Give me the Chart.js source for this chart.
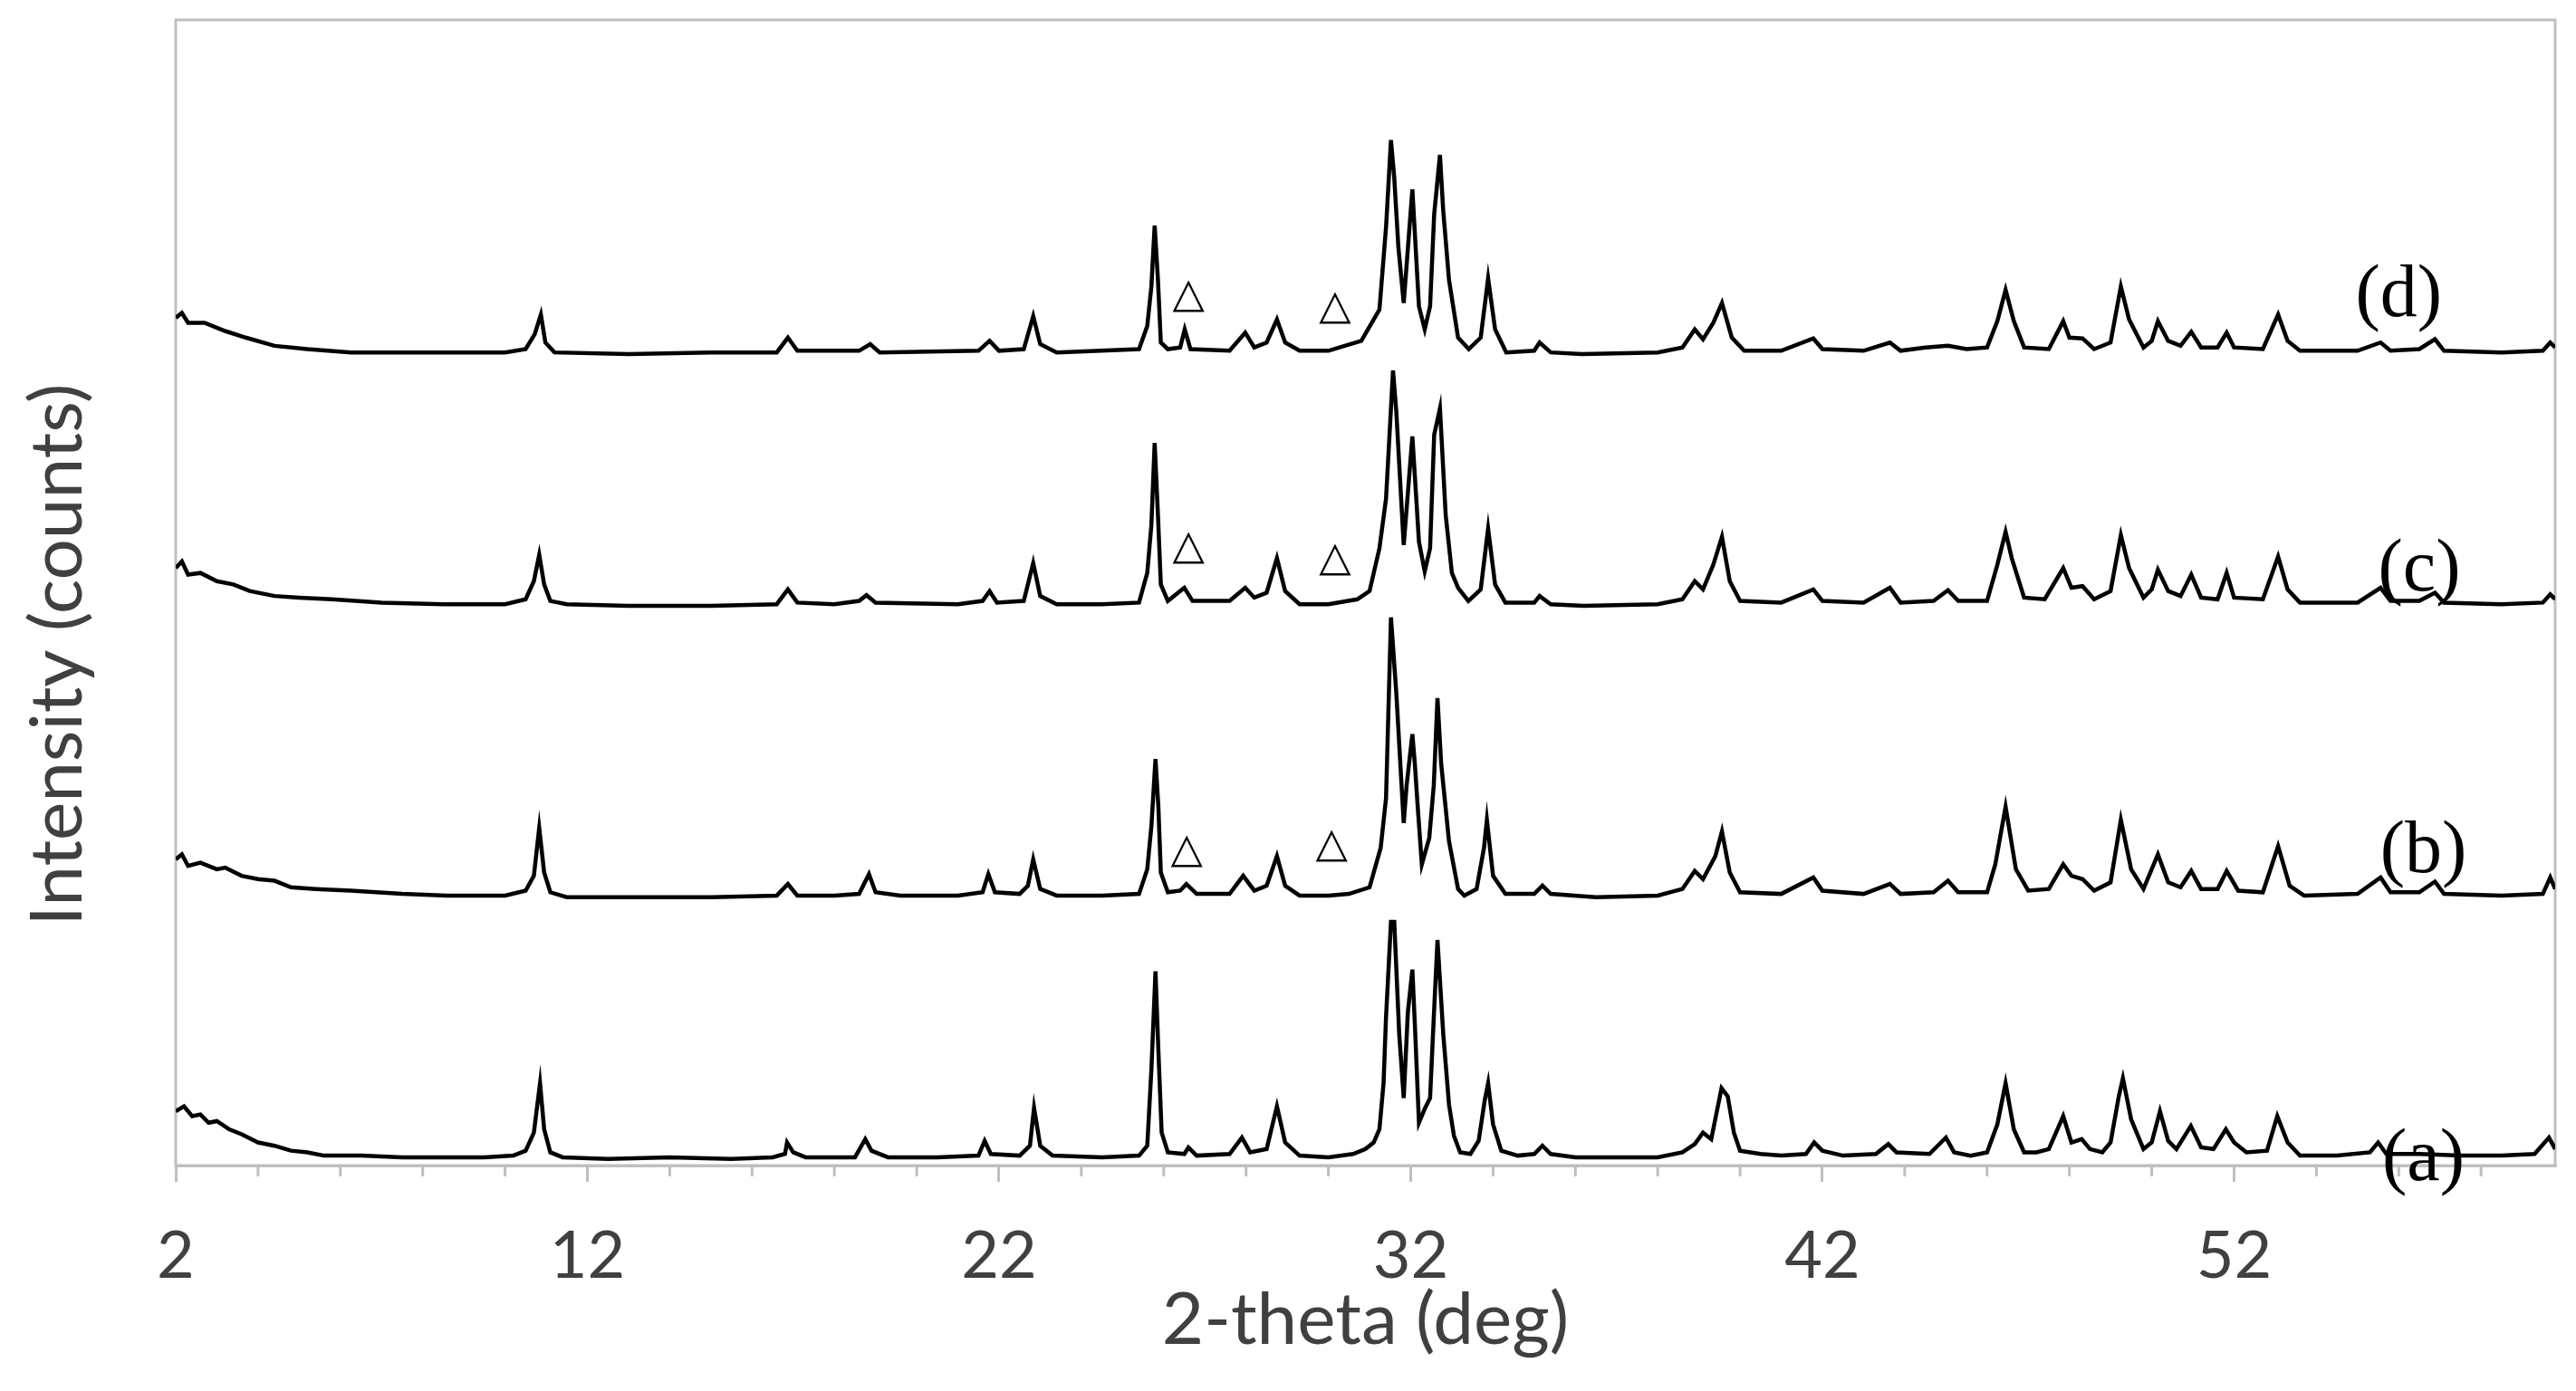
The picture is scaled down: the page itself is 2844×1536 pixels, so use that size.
<!DOCTYPE html>
<html>
<head>
<meta charset="utf-8">
<script src="https://cdn.jsdelivr.net/npm/chart.js@4/dist/chart.umd.min.js"></script>
<style>
  html, body { margin: 0; padding: 0; background: #ffffff; }
  canvas { display: block; }
</style>
</head>
<body>
<canvas id="xrd-chart" width="2844" height="1536"></canvas>
<script>
// 2-theta positions and counts (a) .. (d)
const thetaA = [2.0, 2.2, 2.4, 2.6, 2.8, 3.0, 3.3, 3.6, 4.0, 4.4, 4.8, 5.2, 5.6, 6.5, 7.5, 8.5, 9.5, 10.2, 10.5, 10.7, 10.85, 10.95, 11.1, 11.4, 12.5, 14, 15.5, 16.5, 16.8, 16.85, 17.0, 17.3, 18.5, 18.75, 18.9, 19.3, 20.5, 21.5, 21.65, 21.8, 22.5, 22.75, 22.85, 23.0, 23.3, 24.5, 25.4, 25.6, 25.7, 25.8, 25.87, 25.95, 26.1, 26.5, 26.6, 26.8, 27.6, 27.9, 28.1, 28.5, 28.75, 28.95, 29.3, 30.0, 30.6, 30.9, 31.1, 31.24, 31.34, 31.4, 31.52, 31.6, 31.72, 31.83, 31.93, 32.04, 32.1, 32.2, 32.35, 32.47, 32.56, 32.65, 32.79, 32.93, 33.05, 33.2, 33.45, 33.65, 33.8, 33.88, 34.0, 34.2, 34.6, 35.0, 35.2, 35.4, 36.0, 37.0, 38.0, 38.6, 38.9, 39.1, 39.3, 39.55, 39.7, 39.85, 40.0, 40.5, 41.0, 41.6, 41.8, 42.0, 42.5, 43.3, 43.6, 43.8, 44.6, 45.0, 45.2, 45.6, 46.0, 46.25, 46.45, 46.65, 46.9, 47.2, 47.5, 47.85, 48.05, 48.3, 48.5, 48.8, 49.0, 49.2, 49.3, 49.5, 49.8, 50.0, 50.2, 50.4, 50.6, 50.95, 51.2, 51.5, 51.8, 52.0, 52.3, 52.8, 53.05, 53.3, 53.6, 54.5, 55.3, 55.5, 55.7, 56.5, 57.5, 58.5, 59.3, 59.65, 59.8];
const countsA = [33, 36, 30, 31, 26, 27, 22, 19, 14, 12, 9, 8, 6, 6, 5, 5, 5, 6, 9, 20, 50, 22, 8, 5, 4, 5, 4, 5, 7, 14, 8, 5, 5, 16, 9, 5, 5, 6, 15, 7, 6, 12, 35, 12, 6, 5, 6, 12, 58, 118, 70, 20, 8, 7, 11, 6, 7, 17, 8, 10, 36, 14, 6, 5, 7, 10, 14, 22, 50, 90, 148, 148, 80, 41, 93, 119, 86, 26, 35, 41, 90, 137, 80, 37, 18, 8, 7, 15, 40, 50, 25, 9, 6, 7, 12, 7, 5, 5, 5, 8, 13, 20, 16, 47, 42, 20, 9, 7, 6, 7, 14, 9, 6, 7, 13, 8, 7, 17, 8, 6, 8, 25, 50, 22, 8, 8, 10, 30, 14, 16, 10, 8, 14, 42, 53, 28, 10, 14, 33, 15, 10, 24, 11, 10, 22, 14, 8, 9, 30, 14, 6, 6, 8, 14, 7, 7, 6, 6, 7, 17, 10];

const thetaB = [2.0, 2.15, 2.3, 2.6, 3.0, 3.2, 3.6, 4.0, 4.4, 4.8, 5.4, 6.26, 7.5, 8.6, 10.0, 10.5, 10.7, 10.83, 10.95, 11.1, 11.5, 13, 15, 16.6, 16.87, 17.1, 18.0, 18.6, 18.84, 19.0, 19.6, 21.0, 21.6, 21.74, 21.9, 22.5, 22.7, 22.83, 23.0, 23.4, 24.5, 25.4, 25.6, 25.7, 25.8, 25.87, 25.93, 26.1, 26.4, 26.55, 26.8, 27.6, 27.93, 28.2, 28.5, 28.75, 28.95, 29.3, 30.0, 30.5, 31.0, 31.27, 31.4, 31.52, 31.65, 31.83, 31.9, 32.04, 32.1, 32.17, 32.27, 32.45, 32.56, 32.65, 32.74, 32.93, 33.15, 33.3, 33.6, 33.78, 33.85, 34.0, 34.3, 35.0, 35.2, 35.4, 36.5, 38.0, 38.6, 38.9, 39.1, 39.4, 39.56, 39.75, 40.0, 41.0, 41.78, 42.0, 43.0, 43.64, 43.9, 44.7, 45.05, 45.3, 46.0, 46.2, 46.45, 46.7, 47.0, 47.5, 47.85, 48.05, 48.32, 48.6, 49.0, 49.25, 49.5, 49.8, 50.15, 50.4, 50.7, 50.96, 51.2, 51.6, 51.82, 52.1, 52.7, 53.07, 53.35, 53.7, 55.0, 55.56, 55.8, 56.5, 56.88, 57.1, 58.5, 59.5, 59.68, 59.8];
const countsB = [28, 31, 24, 26, 22, 23, 18, 16, 15, 11, 10, 9, 7, 6, 6, 9, 18, 47, 20, 8, 5, 5, 5, 6, 13, 6, 6, 7, 19, 8, 6, 6, 8, 19, 8, 7, 12, 28, 10, 6, 6, 7, 22, 48, 89, 60, 20, 8, 9, 13, 7, 7, 18, 9, 12, 30, 12, 6, 6, 7, 11, 35, 65, 175, 129, 50, 73, 104, 86, 60, 25, 41, 73, 126, 86, 39, 10, 6, 10, 35, 52, 18, 7, 7, 12, 7, 5, 6, 10, 21, 16, 30, 45, 20, 8, 7, 17, 9, 7, 13, 7, 8, 15, 8, 8, 25, 60, 22, 9, 10, 25, 18, 16, 9, 14, 52, 22, 10, 31, 14, 11, 21, 10, 10, 21, 9, 8, 36, 12, 6, 7, 17, 8, 8, 14.5, 7, 6, 7, 17, 10];

const thetaC = [2.0, 2.15, 2.3, 2.6, 3.0, 3.4, 3.8, 4.4, 5.0, 5.8, 7.0, 8.5, 10.0, 10.5, 10.7, 10.83, 10.95, 11.1, 11.5, 13, 15, 16.6, 16.87, 17.1, 18.0, 18.6, 18.78, 19.0, 21.0, 21.6, 21.77, 21.95, 22.6, 22.83, 23.0, 23.4, 24.5, 25.4, 25.6, 25.7, 25.78, 25.86, 25.93, 26.1, 26.5, 26.7, 27.6, 27.98, 28.2, 28.5, 28.75, 28.95, 29.3, 30.0, 30.7, 31.0, 31.24, 31.4, 31.57, 31.65, 31.83, 32.04, 32.2, 32.34, 32.47, 32.57, 32.71, 32.85, 33.0, 33.15, 33.4, 33.7, 33.88, 34.05, 34.3, 35.0, 35.13, 35.4, 36.2, 38.0, 38.6, 38.9, 39.1, 39.35, 39.56, 39.75, 40.0, 41.0, 41.78, 42.0, 43.0, 43.64, 43.9, 44.7, 45.05, 45.3, 46.0, 46.25, 46.45, 46.6, 46.9, 47.4, 47.85, 48.05, 48.32, 48.6, 49.0, 49.25, 49.45, 49.8, 50.0, 50.15, 50.4, 50.7, 50.96, 51.2, 51.6, 51.82, 52.0, 52.7, 53.07, 53.3, 53.6, 55.0, 55.56, 55.8, 56.5, 56.88, 57.1, 58.5, 59.5, 59.68, 59.8];
const countsC = [28, 32, 24, 25, 20, 18, 14, 11, 10, 9, 7, 6, 6, 9, 20, 36, 18, 8, 6, 5, 5, 6, 15, 7, 6, 8, 11.5, 7, 6, 8, 14, 7, 8, 31, 11, 6, 6, 7, 25, 54, 104, 60, 18, 8, 16, 8, 8, 16, 10, 13, 34, 14, 6, 6, 9, 14, 40, 70, 148, 123, 42, 108, 44, 26, 40, 109, 125, 60, 25, 16, 8, 15, 52, 18, 7, 7, 11, 6, 5, 6, 9, 20, 15, 30, 47, 20, 8, 7, 15, 8, 7, 16, 7, 8, 14.5, 8, 8, 30, 50, 34, 10, 9, 28, 16, 17, 9, 14, 48, 28, 10, 15, 27, 14, 11, 24, 10, 9, 25, 10, 9, 35, 15, 7, 7, 16, 8, 8, 13, 7, 6, 7, 12, 9];

const thetaD = [2.0, 2.15, 2.3, 2.7, 3.2, 3.7, 4.4, 5.2, 6.26, 8.0, 10.0, 10.5, 10.72, 10.87, 10.98, 11.2, 13, 15, 16.6, 16.87, 17.1, 18.6, 18.87, 19.1, 21.5, 21.77, 22.0, 22.6, 22.83, 23.0, 23.4, 25.4, 25.6, 25.7, 25.78, 25.86, 25.93, 26.1, 26.4, 26.51, 26.65, 27.6, 27.98, 28.2, 28.5, 28.75, 28.95, 29.3, 30.0, 30.8, 31.24, 31.4, 31.52, 31.6, 31.7, 31.83, 32.04, 32.2, 32.34, 32.47, 32.57, 32.71, 32.79, 32.93, 33.15, 33.41, 33.7, 33.88, 34.05, 34.32, 35.0, 35.13, 35.4, 36.16, 38.0, 38.6, 38.9, 39.1, 39.35, 39.56, 39.8, 40.1, 41.0, 41.78, 42.0, 43.0, 43.64, 43.9, 44.5, 45.05, 45.5, 46.0, 46.25, 46.45, 46.65, 46.9, 47.5, 47.85, 48.0, 48.32, 48.6, 49.0, 49.25, 49.45, 49.8, 50.0, 50.15, 50.4, 50.7, 50.96, 51.2, 51.6, 51.82, 52.0, 52.7, 53.07, 53.3, 53.6, 55.0, 55.56, 55.8, 56.5, 56.88, 57.1, 58.5, 59.5, 59.68, 59.8];
const countsD = [27, 30, 24, 24, 19, 15, 10, 8, 6, 6, 6, 8, 17, 29, 12, 6, 5, 6, 6, 15, 7, 7, 11, 6, 7, 13, 7, 8, 28, 11, 6, 8, 22, 46, 83, 50, 12, 8, 9, 20, 8, 7, 18, 9, 12, 26, 12, 7, 7, 13, 32, 82, 135, 112, 70, 36, 105, 34, 20, 34, 90, 126, 92, 50, 15, 8, 15, 51, 20, 6, 7, 12, 6, 5, 6, 9, 20, 14, 24, 36, 15, 7, 7, 14.5, 8, 7, 12, 7, 9, 10, 8, 9, 25, 44, 25, 9, 8, 25, 15, 14.5, 8, 12, 46, 26, 9, 13, 25, 13, 10, 18.5, 9, 9, 18, 9, 8, 29, 13, 7, 7, 12, 7, 8, 14, 7, 6, 7, 12, 9];

// vertical shift of each pattern so they stack
const patternOffsets = [0, 158, 335, 488];
const patternNames = ['(a)', '(b)', '(c)', '(d)'];

// where the (a)..(d) labels and the triangle markers sit, in data units
const labelTheta = [56.6, 56.6, 56.5, 56.0];
const labelCounts = [3, 190, 361, 528];
const triangleTheta = [26.56, 30.08, 26.6, 30.16, 26.6, 30.16];
const triangleCounts = [191, 194, 375, 368, 528, 521];

const xTicks = [2, 12, 22, 32, 42, 52];

const AXIS_GREY = '#bfbfbf';
const TEXT_GREY = '#404040';
const SANS = 'Lato, "Open Sans", sans-serif';

function toPoints(thetas, counts, offset) {
    return thetas.map((t, i) => ({ x: t, y: counts[i] + offset }));
}

const decorations = {
    id: 'decorations',
    beforeDatasetsDraw(chart) {
        const { ctx, chartArea } = chart;
        ctx.save();
        ctx.strokeStyle = AXIS_GREY;
        ctx.lineWidth = 3;
        ctx.strokeRect(chartArea.left, chartArea.top, chartArea.right - chartArea.left, chartArea.bottom - chartArea.top);

        // minor ticks every 2 degrees
        const xs = chart.scales.x;
        for (let v = 4; v < xs.max; v += 2) {
            if (xTicks.includes(v)) continue;
            const px = xs.getPixelForValue(v);
            ctx.beginPath();
            ctx.moveTo(px, chartArea.bottom);
            ctx.lineTo(px, chartArea.bottom + 12);
            ctx.stroke();
        }
        ctx.restore();
    },
    afterDraw(chart) {
        const { ctx } = chart;
        const xs = chart.scales.x;
        const ys = chart.scales.y;
        ctx.save();
        ctx.textAlign = 'center';
        ctx.textBaseline = 'middle';

        // y axis title
        ctx.translate(64, 723);
        ctx.rotate(-Math.PI / 2);
        ctx.fillStyle = TEXT_GREY;
        ctx.font = '80px ' + SANS;
        ctx.fillText('Intensity (counts)', 0, 0);
        ctx.setTransform(1, 0, 0, 1, 0, 0);

        ctx.fillStyle = '#000000';
        ctx.font = '82px "Liberation Serif", serif';
        patternNames.forEach((name, i) => {
            ctx.fillText(name, xs.getPixelForValue(labelTheta[i]), ys.getPixelForValue(labelCounts[i]));
        });

        ctx.font = '46px "DejaVu Sans", sans-serif';
        triangleTheta.forEach((t, i) => {
            ctx.fillText('\u25B3', xs.getPixelForValue(t), ys.getPixelForValue(triangleCounts[i]));
        });
        ctx.restore();
    }
};

function drawPatterns() {
    const ctx = document.getElementById('xrd-chart').getContext('2d');
    const series = [
        [thetaA, countsA],
        [thetaB, countsB],
        [thetaC, countsC],
        [thetaD, countsD]
    ];

    new Chart(ctx, {
        type: 'line',
        data: {
            datasets: series.map((s, i) => ({
                label: patternNames[i],
                data: toPoints(s[0], s[1], patternOffsets[i]),
                borderColor: '#000000',
                borderWidth: 4.5,
                borderJoinStyle: 'miter',
                pointRadius: 0,
                tension: 0,
                fill: false
            }))
        },
        options: {
            responsive: false,
            animation: false,
            devicePixelRatio: 1,
            layout: { padding: { left: 194, top: 22, right: 23, bottom: 0 } },
            plugins: {
                legend: { display: false },
                tooltip: { enabled: false }
            },
            scales: {
                x: {
                    type: 'linear',
                    min: 2,
                    max: 59.8,
                    afterBuildTicks: s => { s.ticks = xTicks.map(v => ({ value: v })); },
                    afterFit: s => { s.height = 249; },
                    ticks: {
                        color: TEXT_GREY,
                        font: { family: SANS, size: 72 },
                        padding: 40,
                        maxRotation: 0
                    },
                    grid: {
                        drawOnChartArea: false,
                        color: AXIS_GREY,
                        lineWidth: 3,
                        tickLength: 18
                    },
                    border: { color: AXIS_GREY, width: 3 },
                    title: {
                        display: true,
                        text: '2-theta (deg)',
                        color: TEXT_GREY,
                        font: { family: SANS, size: 80 },
                        padding: { top: 0, bottom: 30 }
                    }
                },
                y: {
                    display: false,
                    min: 0,
                    max: 696
                }
            }
        },
        plugins: [decorations]
    });
}

drawPatterns();
</script>
</body>
</html>
